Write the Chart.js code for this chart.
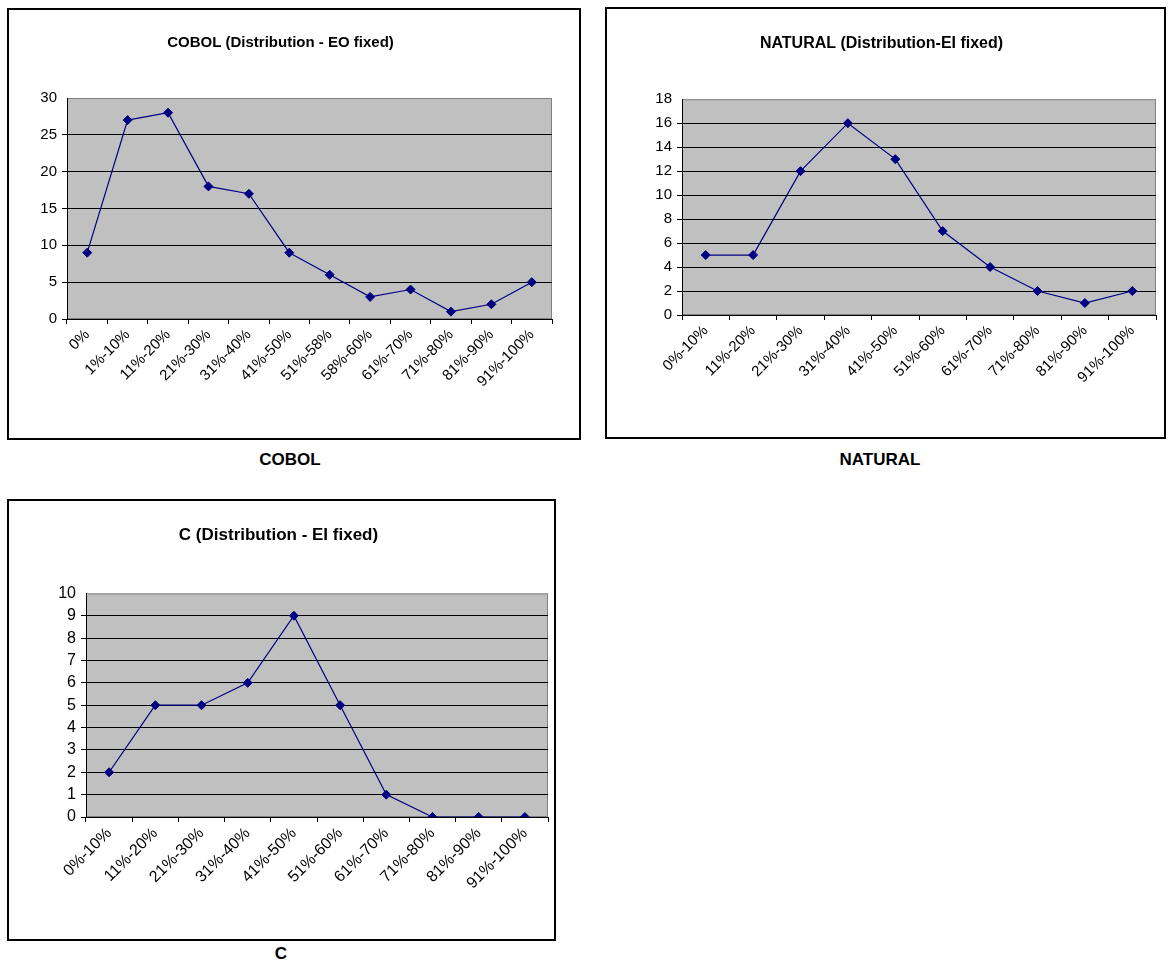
<!DOCTYPE html>
<html>
<head>
<meta charset="utf-8">
<script src="https://cdn.jsdelivr.net/npm/chart.js@4.4.1/dist/chart.umd.min.js"></script>
<style>
  body { margin: 0; background: #fff; width: 1169px; height: 969px; position: relative; overflow: hidden; font-family: "Liberation Sans", Arial, sans-serif; }
  .frame { position: absolute; border: 2px solid #000; background: #fff; box-sizing: border-box; }
  .frame canvas { position: absolute; left: 0; top: 0; }
  .caption { position: absolute; font-weight: bold; font-size: 17px; transform: translateX(-50%); }
</style>
</head>
<body>
<div class="frame" id="fCobol" style="left:7px;top:8px;width:574px;height:432px;"><canvas id="cobolChart"></canvas></div>
<div class="frame" id="fNatural" style="left:605px;top:7px;width:561px;height:432px;"><canvas id="naturalChart"></canvas></div>
<div class="frame" id="fC" style="left:7px;top:499px;width:549px;height:442px;"><canvas id="cChart"></canvas></div>
<div class="caption" style="left:290px;top:450px;">COBOL</div>
<div class="caption" style="left:880px;top:450px;">NATURAL</div>
<div class="caption" style="left:281px;top:944px;">C</div>

<script>
// Category labels
const cobolLabels = ["0%", "1%-10%", "11%-20%", "21%-30%", "31%-40%", "41%-50%", "51%-58%", "58%-60%", "61%-70%", "71%-80%", "81%-90%", "91%-100%"];
const rangeLabels = ["0%-10%", "11%-20%", "21%-30%", "31%-40%", "41%-50%", "51%-60%", "61%-70%", "71%-80%", "81%-90%", "91%-100%"];

// Series values
const cobolValues = [9, 27, 28, 18, 17, 9, 6, 3, 4, 1, 2, 5];
const naturalValues = [5, 5, 12, 16, 13, 7, 4, 2, 1, 2];
const cValues = [2, 5, 5, 6, 9, 5, 1, 0, 0, 0];

// Y axis settings
const cobolTicks = { max: 30, step: 5 };
const naturalTicks = { max: 18, step: 2 };
const cTicks = { max: 10, step: 1 };

// Gray plot area like Excel
const plotAreaPlugin = {
    id: 'plotArea',
    beforeDraw(chart) {
        const { ctx, chartArea } = chart;
        ctx.save();
        ctx.fillStyle = '#c0c0c0';
        ctx.fillRect(chartArea.left, chartArea.top, chartArea.right - chartArea.left, chartArea.bottom - chartArea.top);
        ctx.strokeStyle = '#808080';
        ctx.lineWidth = 1;
        ctx.strokeRect(chartArea.left + 0.5, chartArea.top + 0.5, chartArea.right - chartArea.left - 1, chartArea.bottom - chartArea.top - 1);
        ctx.restore();
    }
};

// Function to create a chart
function createChart(canvasId, frameId, title, labels, values, ticks, layout) {
    const frame = document.getElementById(frameId);
    const canvas = document.getElementById(canvasId);
    canvas.width = frame.clientWidth;
    canvas.height = frame.clientHeight;
    new Chart(canvas.getContext('2d'), {
        type: 'line',
        data: {
            labels: labels,
            datasets: [{
                data: values,
                borderColor: '#000080',
                backgroundColor: '#000080',
                borderWidth: 1.2,
                pointStyle: 'rectRot',
                pointRadius: 4.5,
                pointBorderWidth: 1,
                tension: 0
            }]
        },
        options: {
            responsive: false,
            animation: false,
            devicePixelRatio: 1,
            layout: { padding: { top: 0, right: layout.right, bottom: 0, left: 0 } },
            plugins: {
                legend: { display: false },
                tooltip: { enabled: false },
                title: {
                    display: true,
                    text: title,
                    color: '#000',
                    font: { family: 'Liberation Sans', size: layout.titleSize, weight: 'bold' },
                    padding: { top: layout.titleTop, bottom: layout.titleBottom }
                }
            },
            scales: {
                x: {
                    offset: true,
                    grid: { offset: true, drawOnChartArea: false, drawTicks: true, tickLength: 5, color: '#000' },
                    border: { color: '#000', width: 1 },
                    ticks: {
                        autoSkip: false,
                        minRotation: 45,
                        maxRotation: 45,
                        color: '#000',
                        padding: 2,
                        font: { family: 'Liberation Sans', size: layout.tickSize }
                    },
                    afterFit(scale) { scale.height = layout.xHeight; }
                },
                y: {
                    min: 0,
                    max: ticks.max,
                    grid: {
                        color: (c) => (c.tick && c.tick.value === ticks.max) ? 'rgba(0,0,0,0)' : '#000',
                        tickLength: 5,
                        drawTicks: true
                    },
                    border: { color: '#000', width: 1 },
                    ticks: {
                        stepSize: ticks.step,
                        color: '#000',
                        padding: 5,
                        font: { family: 'Liberation Sans', size: layout.tickSize }
                    },
                    afterFit(scale) { scale.width = layout.yWidth; }
                }
            }
        },
        plugins: [plotAreaPlugin]
    });
}

createChart('cobolChart', 'fCobol', 'COBOL (Distribution - EO fixed)', cobolLabels, cobolValues, cobolTicks,
    { yWidth: 58, xHeight: 119, right: 27, titleTop: 24, titleBottom: 46, titleSize: 15, tickSize: 15 });
createChart('naturalChart', 'fNatural', 'NATURAL (Distribution-EI fixed)', rangeLabels, naturalValues, naturalTicks,
    { yWidth: 75, xHeight: 122, right: 8, titleTop: 25, titleBottom: 46, titleSize: 16, tickSize: 15 });
createChart('cChart', 'fC', 'C (Distribution - EI fixed)', rangeLabels, cValues, cTicks,
    { yWidth: 77, xHeight: 122, right: 6, titleTop: 24, titleBottom: 48, titleSize: 17, tickSize: 16 });
</script>
</body>
</html>
